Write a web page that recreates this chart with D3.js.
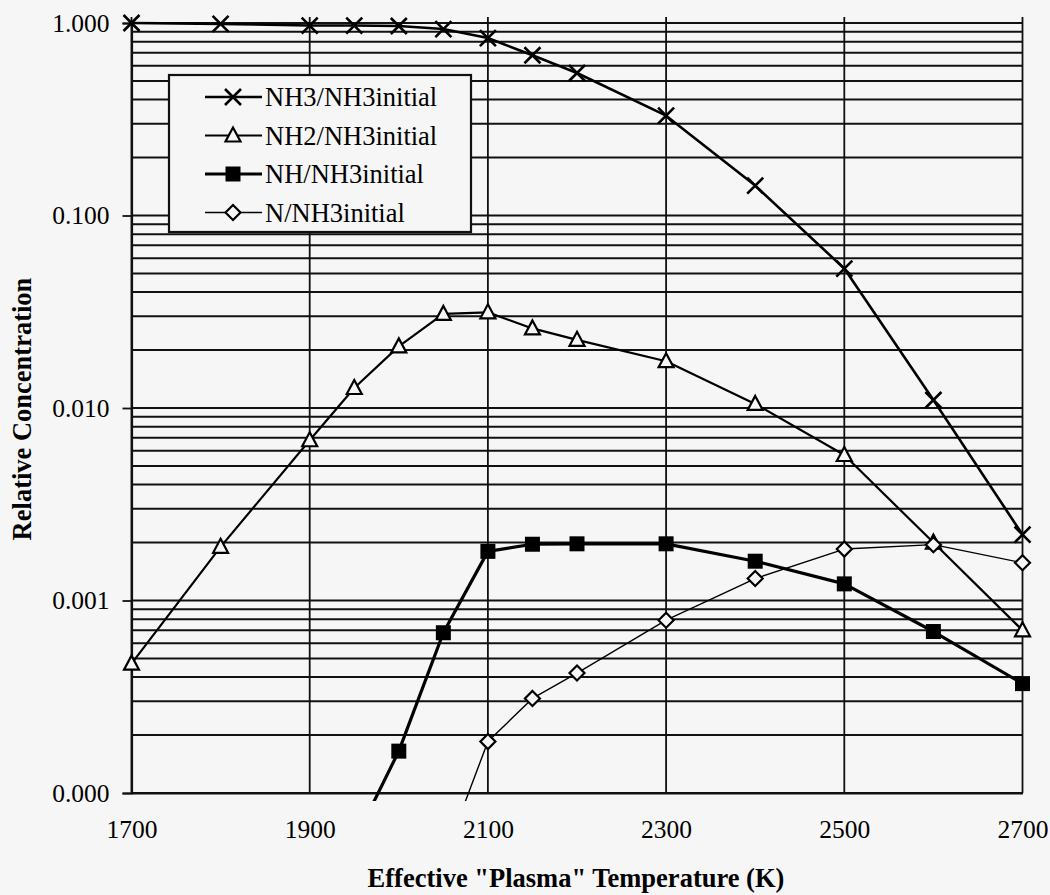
<!DOCTYPE html>
<html>
<head>
<meta charset="utf-8">
<script src="https://cdn.jsdelivr.net/npm/d3@7"></script>
<style>
  html, body { margin: 0; padding: 0; background: #f6f6f6; }
  svg { display: block; }
  text { font-family: "Liberation Serif", "Times New Roman", serif; fill: #000; }
</style>
</head>
<body>
<svg id="chart" width="1050" height="895"></svg>
<script>
// Temperatures (K) at which each species was computed
const nh3Temps = [1700, 1800, 1900, 1950, 2000, 2050, 2100, 2150, 2200, 2300, 2400, 2500, 2600, 2700];
const nh3Values = [1.0, 0.99, 0.97, 0.97, 0.965, 0.93, 0.835, 0.68, 0.55, 0.33, 0.143, 0.053, 0.011, 0.0022];

const nh2Temps = [1700, 1800, 1900, 1950, 2000, 2050, 2100, 2150, 2200, 2300, 2400, 2500, 2600, 2700];
const nh2Values = [0.00047, 0.0019, 0.0068, 0.0127, 0.0209, 0.0308, 0.0314, 0.0259, 0.0226, 0.0175, 0.0105, 0.0057, 0.002, 0.0007];

const nhTemps = [1950, 2000, 2050, 2100, 2150, 2200, 2300, 2400, 2500, 2600, 2700];
const nhValues = [0.000056, 0.000165, 0.00068, 0.0018, 0.00196, 0.00197, 0.00197, 0.0016, 0.00122, 0.00069, 0.00037];

const nTemps = [2050, 2100, 2150, 2200, 2300, 2400, 2500, 2600, 2700];
const nValues = [0.000045, 0.000185, 0.00031, 0.00042, 0.00079, 0.0013, 0.00185, 0.00195, 0.00157];

const seriesNames = ["NH3/NH3initial", "NH2/NH3initial", "NH/NH3initial", "N/NH3initial"];
const xTickValues = [1700, 1900, 2100, 2300, 2500, 2700];
const yTickValues = [0.0001, 0.001, 0.01, 0.1, 1];
const xTitle = 'Effective "Plasma" Temperature (K)';
const yTitle = "Relative Concentration";

const bg = "#f6f6f6";
const svg = d3.select("#chart");
const plot = { left: 131.5, right: 1022.5, top: 23, bottom: 793 };

const x = d3.scaleLinear().domain([1700, 2700]).range([plot.left, plot.right]);
const y = d3.scaleLog().domain([0.0001, 1]).range([plot.bottom, plot.top]);

svg.append("rect").attr("width", 1050).attr("height", 895).attr("fill", bg);

// Horizontal grid: every 1..9 x 10^k between 1e-4 and 1
const gridVals = [];
for (let k = -4; k < 0; k++) {
  for (let m = 1; m <= 9; m++) gridVals.push(m * Math.pow(10, k));
}
gridVals.push(1);
svg.append("g").selectAll("line").data(gridVals).join("line")
  .attr("x1", plot.left).attr("x2", plot.right)
  .attr("y1", d => y(d)).attr("y2", d => y(d))
  .attr("stroke", "#111").attr("stroke-width", 2);

// Vertical grid at each labelled temperature
svg.append("g").selectAll("line").data(xTickValues).join("line")
  .attr("x1", d => x(d)).attr("x2", d => x(d))
  .attr("y1", plot.top - 6).attr("y2", plot.bottom)
  .attr("stroke", "#111").attr("stroke-width", 1.8);

// Y axis (ticks and labels)
const yAxis = d3.axisLeft(y).tickValues(yTickValues).tickFormat(d3.format(".3f")).tickSize(9).tickPadding(13);
const gy = svg.append("g").attr("transform", `translate(${plot.left},0)`).call(yAxis);
gy.select(".domain").attr("stroke", "#111").attr("stroke-width", 2.2);
gy.selectAll(".tick line").attr("stroke", "#111").attr("stroke-width", 1.8);
gy.selectAll(".tick text").attr("font-size", 25.5).attr("font-family", "Liberation Serif").attr("fill", "#000");

// X axis (labels only; the grid carries the lines)
const xAxis = d3.axisBottom(x).tickValues(xTickValues).tickFormat(d3.format("d")).tickSize(0).tickPadding(27);
const gx = svg.append("g").attr("transform", `translate(0,${plot.bottom})`).call(xAxis);
gx.select(".domain").attr("stroke", "#111").attr("stroke-width", 2.2);
gx.selectAll(".tick text").attr("font-size", 25.5).attr("font-family", "Liberation Serif").attr("fill", "#000");

// Titles
svg.append("text").attr("x", 576).attr("y", 887).attr("text-anchor", "middle")
  .attr("font-size", 26.5).attr("font-weight", "bold").text(xTitle);
svg.append("text").attr("transform", "translate(31,409) rotate(-90)").attr("text-anchor", "middle")
  .attr("font-size", 26.5).attr("font-weight", "bold").text(yTitle);

// Clip so lines heading below 1e-4 stop just past the axis
svg.append("clipPath").attr("id", "plotClip").append("rect")
  .attr("x", plot.left - 12).attr("y", 0)
  .attr("width", plot.right - plot.left + 24).attr("height", plot.bottom + 8);

const series = [
  { name: seriesNames[0], temps: nh3Temps, values: nh3Values, width: 2.6, marker: "x" },
  { name: seriesNames[1], temps: nh2Temps, values: nh2Values, width: 2.2, marker: "triangle" },
  { name: seriesNames[2], temps: nhTemps, values: nhValues, width: 3.2, marker: "square" },
  { name: seriesNames[3], temps: nTemps, values: nValues, width: 1.4, marker: "diamond" }
];

function drawMarker(g, type, cx, cy) {
  if (type === "x") {
    const s = 8;
    g.append("path").attr("d", `M${cx - s},${cy - s}L${cx + s},${cy + s}M${cx - s},${cy + s}L${cx + s},${cy - s}`)
      .attr("stroke", "#000").attr("stroke-width", 2.6).attr("fill", "none");
  } else if (type === "triangle") {
    g.append("path").attr("d", `M${cx},${cy - 8}L${cx + 7.5},${cy + 6}L${cx - 7.5},${cy + 6}Z`)
      .attr("stroke", "#000").attr("stroke-width", 2.2).attr("fill", bg);
  } else if (type === "square") {
    g.append("rect").attr("x", cx - 7.5).attr("y", cy - 7.5).attr("width", 15).attr("height", 15).attr("fill", "#000");
  } else if (type === "diamond") {
    const s = 7.5;
    g.append("path").attr("d", `M${cx},${cy - s}L${cx + s},${cy}L${cx},${cy + s}L${cx - s},${cy}Z`)
      .attr("stroke", "#000").attr("stroke-width", 2.2).attr("fill", bg);
  }
}

const linesG = svg.append("g").attr("clip-path", "url(#plotClip)");
series.forEach(s => {
  const pts = s.temps.map((t, i) => [t, s.values[i]]);
  linesG.append("path").datum(pts)
    .attr("d", d3.line().x(d => x(d[0])).y(d => y(d[1])))
    .attr("fill", "none").attr("stroke", "#000").attr("stroke-width", s.width).attr("stroke-linejoin", "round");
});
series.forEach(s => {
  const g = svg.append("g");
  s.temps.forEach((t, i) => {
    const v = s.values[i];
    if (v >= y.domain()[0]) drawMarker(g, s.marker, x(t), y(v));
  });
});

// Legend
const legend = svg.append("g");
legend.append("rect").attr("x", 169).attr("y", 75).attr("width", 302).attr("height", 157)
  .attr("fill", bg).attr("stroke", "#111").attr("stroke-width", 2.2);
series.forEach((s, i) => {
  const ly = 97 + i * 38.5;
  legend.append("line").attr("x1", 205).attr("x2", 262).attr("y1", ly).attr("y2", ly)
    .attr("stroke", "#000").attr("stroke-width", s.width);
  drawMarker(legend, s.marker, 233, ly);
  legend.append("text").attr("x", 265).attr("y", ly).attr("dominant-baseline", "central")
    .attr("font-size", 26.5).text(s.name);
});
</script>
</body>
</html>
